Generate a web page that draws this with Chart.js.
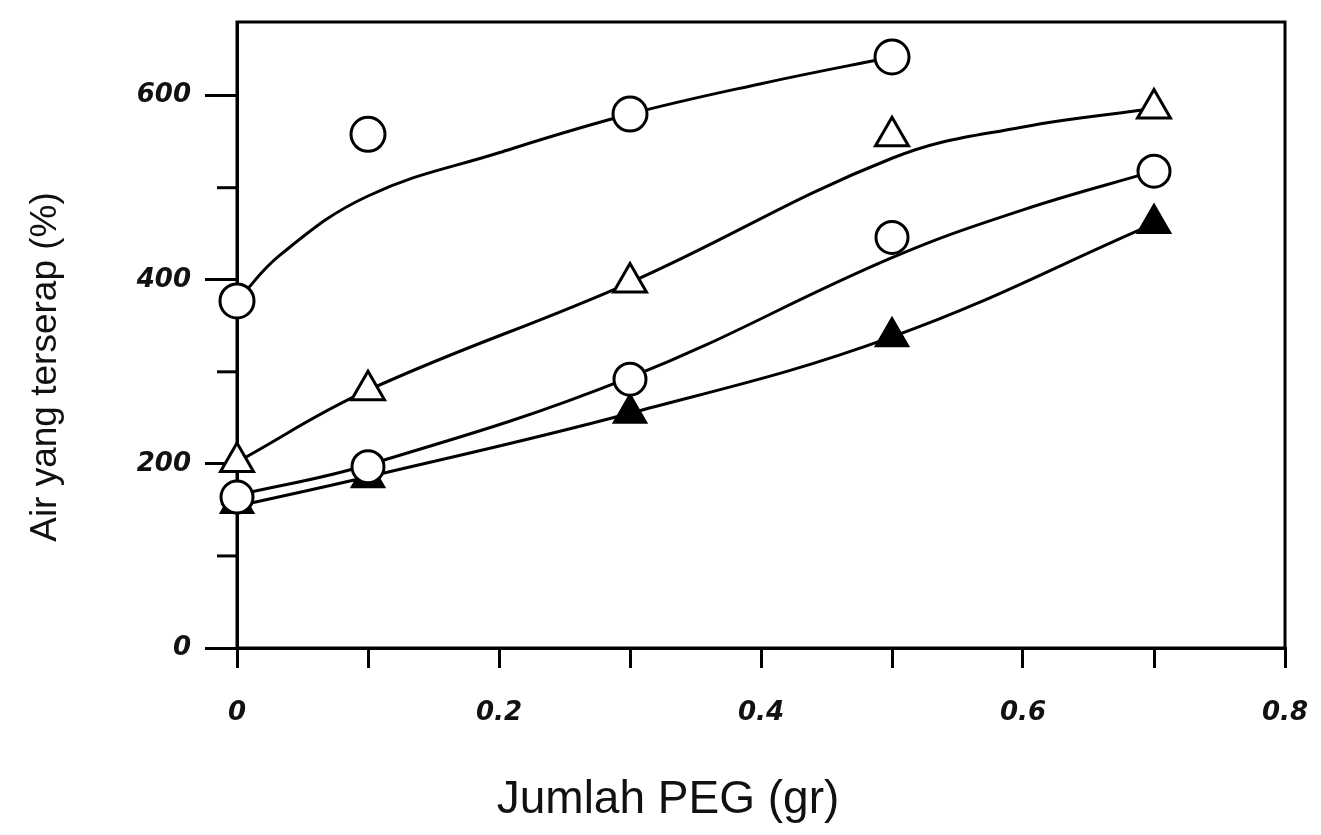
<!DOCTYPE html>
<html>
<head>
<meta charset="utf-8">
<script src="https://cdn.jsdelivr.net/npm/chart.js@4.4.1/dist/chart.umd.min.js"></script>
<style>
  html, body { margin: 0; padding: 0; background: #fff; }
  #wrap { width: 1321px; height: 835px; }
</style>
</head>
<body>
<div id="wrap"><canvas id="myChart" width="1321" height="835"></canvas></div>
<script>
// measured points
var xA = [0, 0.1, 0.3, 0.5];
var yA = [377, 558, 580, 642];
var xB = [0, 0.1, 0.3, 0.5, 0.7];
var yB = [202, 280, 397, 556, 586];
var xC = [0, 0.1, 0.3, 0.5, 0.7];
var yC = [164, 197, 292, 446, 518];
var xD = [0, 0.1, 0.3, 0.5, 0.7];
var yD = [157, 185, 255, 338, 461];

// drawn trend curves
var fitXA = [0, 0.033, 0.1, 0.2, 0.3, 0.4, 0.5];
var fitYA = [377, 427, 491, 538, 580, 613, 642];
var fitXB = [0, 0.1, 0.3, 0.5, 0.6, 0.7];
var fitYB = [202, 280, 397, 532, 566, 586];
var fitXC = [0, 0.1, 0.3, 0.5, 0.6, 0.7];
var fitYC = [166, 199, 294, 424, 476, 518];
var fitXD = [0, 0.1, 0.3, 0.5, 0.7];
var fitYD = [154, 186, 255, 338, 461];

var xTicks = [0, 0.2, 0.4, 0.6, 0.8];
var yTicks = [0, 200, 400, 600];
var xTitle = 'Jumlah PEG (gr)';
var yTitle = 'Air yang terserap (%)';

function pts(xs, ys) {
    return xs.map(function (x, i) { return { x: x, y: ys[i] }; });
}

function fitLine(xs, ys) {
    return {
        data: pts(xs, ys),
        showLine: true,
        borderColor: '#000',
        borderWidth: 3,
        pointRadius: 0,
        tension: 0.4,
        clip: false,
        order: 1
    };
}

function marks(xs, ys, style, fill, r) {
    return {
        data: pts(xs, ys),
        showLine: false,
        pointStyle: style,
        pointRadius: r,
        backgroundColor: fill,
        borderColor: '#000',
        borderWidth: 3,
        clip: false,
        order: 0
    };
}

var frame = {
    id: 'frame',
    beforeDatasetsDraw: function (chart) {
        var a = chart.chartArea, ctx = chart.ctx;
        ctx.save();
        ctx.strokeStyle = '#000';
        ctx.lineWidth = 3;
        ctx.strokeRect(a.left, a.top, a.right - a.left, a.bottom - a.top);
        // minor y ticks (shorter)
        var ys = chart.scales.y;
        ys.ticks.forEach(function (t) {
            if (yTicks.indexOf(t.value) < 0) {
                var p = ys.getPixelForValue(t.value);
                ctx.beginPath();
                ctx.moveTo(a.left - 20, p);
                ctx.lineTo(a.left, p);
                ctx.stroke();
            }
        });
        ctx.restore();
    },
    afterDraw: function (chart) {
        var ctx = chart.ctx;
        ctx.save();
        ctx.fillStyle = '#111';
        ctx.textAlign = 'center';
        ctx.textBaseline = 'middle';
        ctx.font = '46px "Liberation Sans"';
        ctx.fillText(xTitle, 668, 800);
        ctx.translate(46, 367);
        ctx.rotate(-Math.PI / 2);
        ctx.font = '37px "Liberation Sans"';
        ctx.fillText(yTitle, 0, 0);
        ctx.restore();
    }
};

const myChart = document.getElementById('myChart');
new Chart(myChart, {
    type: 'scatter',
    data: {
        datasets: [
            fitLine(fitXA, fitYA),
            fitLine(fitXB, fitYB),
            fitLine(fitXC, fitYC),
            fitLine(fitXD, fitYD),
            marks(xA, yA, 'circle', '#fff', 17),
            marks(xB, yB, 'triangle', '#fff', 19),
            marks(xC, yC, 'circle', '#fff', 16),
            marks(xD, yD, 'triangle', '#000', 18)
        ]
    },
    options: {
        responsive: false,
        animation: false,
        layout: { padding: { top: 18, right: 36, left: 10, bottom: 10 } },
        plugins: {
            legend: { display: false },
            tooltip: { enabled: false }
        },
        scales: {
            x: {
                type: 'linear',
                min: 0,
                max: 0.8,
                afterBuildTicks: function (s) {
                    var t = [];
                    for (var i = 0; i <= 8; i++) t.push({ value: i / 10 });
                    s.ticks = t;
                },
                afterFit: function (s) {
                    s.height = 835 - 648 - 10;
                    s.paddingLeft = 0;
                    s.paddingRight = 0;
                },
                border: { color: '#000', width: 3 },
                grid: { drawOnChartArea: false, color: '#000', lineWidth: 3, tickLength: 20 },
                ticks: {
                    autoSkip: false,
                    maxRotation: 0,
                    padding: 30,
                    color: '#111',
                    font: { family: 'DejaVu Sans', size: 26, style: 'italic', weight: 'bold' },
                    callback: function (v) {
                        var r = Math.round(v * 10) / 10;
                        return xTicks.indexOf(r) >= 0 ? (r === 0 ? '0' : String(r)) : '';
                    }
                }
            },
            y: {
                min: 0,
                max: 680,
                afterBuildTicks: function (s) {
                    var t = [];
                    for (var v = 0; v <= 600; v += 100) t.push({ value: v });
                    s.ticks = t;
                },
                afterFit: function (s) {
                    s.width = 237 - 10;
                    s.paddingTop = 0;
                    s.paddingBottom = 0;
                },
                border: { color: '#000', width: 3 },
                grid: {
                    drawOnChartArea: false,
                    lineWidth: 3,
                    tickLength: 32,
                    tickColor: function (c) {
                        return c.tick && yTicks.indexOf(c.tick.value) >= 0 ? '#000' : 'rgba(0,0,0,0)';
                    }
                },
                ticks: {
                    autoSkip: false,
                    padding: 14,
                    color: '#111',
                    font: { family: 'DejaVu Sans', size: 26, style: 'italic', weight: 'bold' },
                    callback: function (v) { return yTicks.indexOf(v) >= 0 ? String(v) : ''; }
                }
            }
        }
    },
    plugins: [frame]
});
</script>
</body>
</html>
